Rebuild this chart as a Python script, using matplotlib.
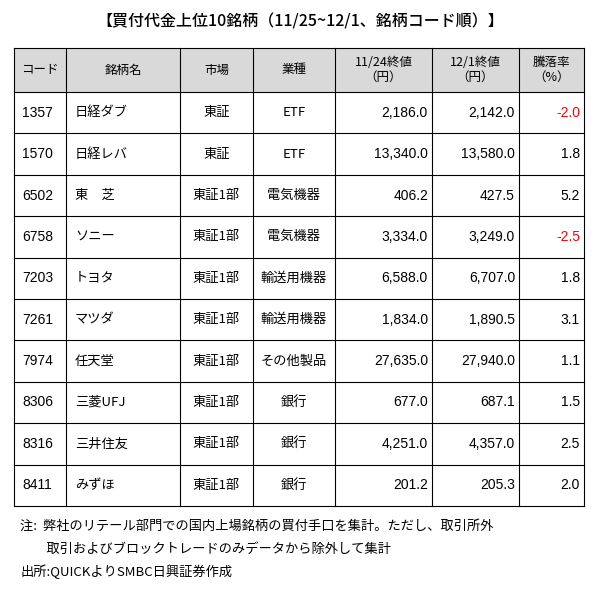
import matplotlib
matplotlib.use("Agg")
import matplotlib.pyplot as plt

plt.rcParams['font.family'] = ['Noto Sans CJK JP', 'DejaVu Sans']
NUM_FONT = 'Liberation Sans'

title = "【買付代金上位10銘柄（11/25~12/1、銘柄コード順）】"
headers = ["コード", "銘柄名", "市場", "業種", "11/24終値\n（円）", "12/1終値\n（円）", "騰落率\n（%）"]
codes = ["1357", "1570", "6502", "6758", "7203", "7261", "7974", "8306", "8316", "8411"]
names = ["日経ダブ", "日経レバ", "東　芝", "ソニー", "トヨタ", "マツダ", "任天堂", "三菱UFJ", "三井住友", "みずほ"]
markets = ["東証", "東証", "東証1部", "東証1部", "東証1部", "東証1部", "東証1部", "東証1部", "東証1部", "東証1部"]
sectors = ["ETF", "ETF", "電気機器", "電気機器", "輸送用機器", "輸送用機器", "その他製品", "銀行", "銀行", "銀行"]
close_1124 = [2186.0, 13340.0, 406.2, 3334.0, 6588.0, 1834.0, 27635.0, 677.0, 4251.0, 201.2]
close_1201 = [2142.0, 13580.0, 427.5, 3249.0, 6707.0, 1890.5, 27940.0, 687.1, 4357.0, 205.3]
change = [-2.0, 1.8, 5.2, -2.5, 1.8, 3.1, 1.1, 1.5, 2.5, 2.0]
notes = ["注:  弊社のリテール部門での国内上場銘柄の買付手口を集計。ただし、取引所外",
         "　　取引およびブロックトレードのみデータから除外して集計",
         "出所:QUICKよりSMBC日興証券作成"]

fig = plt.figure(figsize=(6.01, 5.90), dpi=100)
ax = fig.add_axes([0, 0, 1, 1])
ax.set_xlim(0, 601)
ax.set_ylim(590, 0)
ax.axis('off')

cols = [14, 66, 180, 253, 335, 432, 519, 584]
top, head_bot, bot = 48, 92, 506
row_h = (bot - head_bot) / len(codes)

ax.text(300, 22, title, ha='center', va='center', fontsize=11.5, fontweight='medium')

ax.add_patch(plt.Rectangle((cols[0], top), cols[-1] - cols[0], head_bot - top,
                           facecolor='#d9d9d9', edgecolor='none'))
for x in cols:
    ax.plot([x, x], [top, bot], color='black', lw=0.8)
ys = [top, head_bot] + [head_bot + row_h * (i + 1) for i in range(len(codes))]
for y in ys:
    ax.plot([cols[0], cols[-1]], [y, y], color='black', lw=0.8)

for j, h in enumerate(headers):
    ax.text((cols[j] + cols[j + 1]) / 2, (top + head_bot) / 2, h,
            ha='center', va='center', fontsize=9, linespacing=1.2)

for i in range(len(codes)):
    yc = head_bot + row_h * (i + 0.5)
    ax.text(cols[0] + 8, yc, codes[i], ha='left', va='center', fontsize=10, family=NUM_FONT)
    ax.text(cols[1] + 9, yc, names[i], ha='left', va='center', fontsize=9.5)
    ax.text((cols[2] + cols[3]) / 2, yc, markets[i], ha='center', va='center', fontsize=9.5)
    ax.text((cols[3] + cols[4]) / 2, yc, sectors[i], ha='center', va='center', fontsize=9.5)
    ax.text(cols[5] - 4, yc, f"{close_1124[i]:,.1f}", ha='right', va='center', fontsize=10, family=NUM_FONT)
    ax.text(cols[6] - 4, yc, f"{close_1201[i]:,.1f}", ha='right', va='center', fontsize=10, family=NUM_FONT)
    ax.text(cols[7] - 4, yc, f"{change[i]:.1f}", ha='right', va='center', fontsize=10, family=NUM_FONT,
            color='red' if change[i] < 0 else 'black')

for k, n in enumerate(notes):
    ax.text(20, 526 + k * 23, n, ha='left', va='center', fontsize=9.5)

fig.savefig("out.png", dpi=100)
